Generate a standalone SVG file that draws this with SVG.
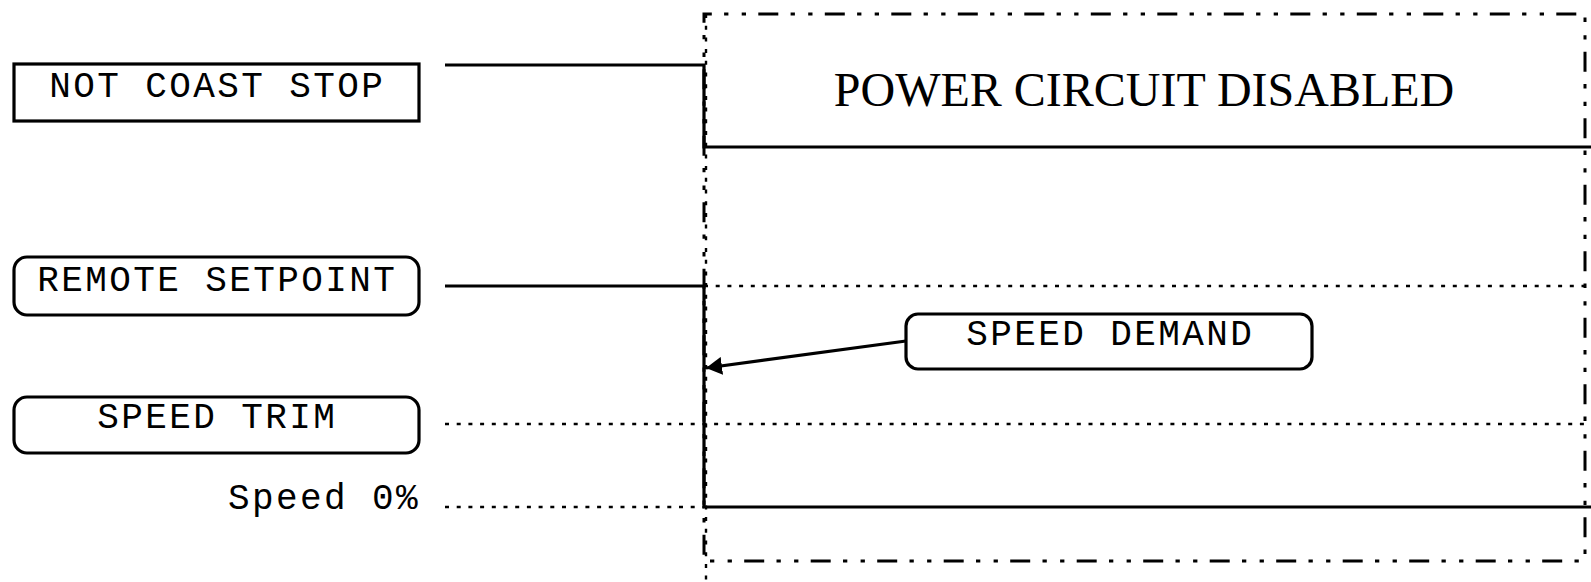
<svg xmlns="http://www.w3.org/2000/svg" width="1591" height="582" viewBox="0 0 1591 582">
<style>
  .box { fill: #ffffff; stroke: #000000; stroke-width: 3.2; }
  .lbl { font-family: "Liberation Mono", "Courier New", monospace; font-size: 36px; letter-spacing: 2.4px; fill: #000000; }
  .title { font-family: "Liberation Serif", "Times New Roman", serif; font-size: 48px; fill: #000000; }
  .solid { fill: none; stroke: #000000; stroke-width: 3.2; }
  .dotted { fill: none; stroke: #000000; stroke-width: 2.4; stroke-dasharray: 4 7.7; }
  .dashdot { fill: none; stroke: #000000; stroke-width: 3; stroke-dasharray: 20 12.3 4.3 13.3 4.3 12.3; stroke-dashoffset: 12.2; }
</style>
<defs>
  <marker id="arrow" markerWidth="16" markerHeight="18" refX="16" refY="9" orient="auto" markerUnits="userSpaceOnUse">
    <path d="M0,0 L16,9 L0,18 Z" fill="#000000"/>
  </marker>
</defs>
<rect width="1591" height="582" fill="#ffffff"/>

<g id="state-region">
  <path class="dashdot" d="M704,14 H1585 V561 H704 Z"/>
  <line class="dotted" x1="706" y1="14" x2="706" y2="582"/>
  <text class="title" x="1144" y="106" text-anchor="middle">POWER CIRCUIT DISABLED</text>
</g>

<g id="connectors">
  <polyline class="solid" points="445,65 704,65 704,147 1591,147"/>
  <polyline class="solid" points="445,286 704,286 704,507 1591,507"/>
  <line class="dotted" x1="704" y1="286" x2="1585" y2="286"/>
  <line class="dotted" x1="445" y1="424" x2="1585" y2="424"/>
  <line class="dotted" x1="445" y1="507" x2="704" y2="507"/>
  <line class="solid" x1="906" y1="341" x2="706" y2="368" stroke-width="2.6" marker-end="url(#arrow)"/>
</g>

<g id="not-coast-stop">
  <rect class="box" x="14" y="64" width="405" height="57"/>
  <text class="lbl" x="217.2" y="97" text-anchor="middle">NOT COAST STOP</text>
</g>

<g id="remote-setpoint">
  <rect class="box" x="14" y="257" width="405" height="58" rx="13" ry="13"/>
  <text class="lbl" x="217.2" y="291" text-anchor="middle">REMOTE SETPOINT</text>
</g>

<g id="speed-trim">
  <rect class="box" x="14" y="397" width="405" height="56" rx="13" ry="13"/>
  <text class="lbl" x="217.2" y="428" text-anchor="middle">SPEED TRIM</text>
</g>

<g id="speed-0">
  <text class="lbl" x="420" y="509" text-anchor="end">Speed 0%</text>
</g>

<g id="speed-demand">
  <rect class="box" x="906" y="314" width="406" height="55" rx="12" ry="12"/>
  <text class="lbl" x="1110.2" y="345" text-anchor="middle">SPEED DEMAND</text>
</g>
</svg>
